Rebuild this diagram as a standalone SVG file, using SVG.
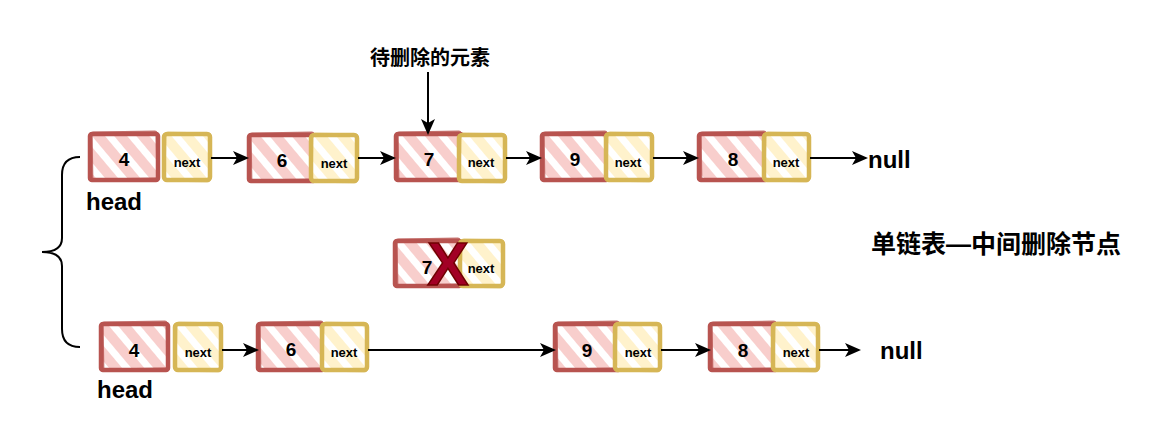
<svg xmlns="http://www.w3.org/2000/svg" width="1168" height="447" viewBox="0 0 1168 447">
<defs>
<pattern id="hr" width="17" height="17" patternUnits="userSpaceOnUse" patternTransform="rotate(-40)">
<rect width="17" height="17" fill="#ffffff"/>
<rect width="10" height="17" fill="#f8cecc"/>
</pattern>
<pattern id="hy" width="17" height="17" patternUnits="userSpaceOnUse" patternTransform="rotate(-40)">
<rect width="17" height="17" fill="#ffffff"/>
<rect width="10" height="17" fill="#fff2cc"/>
</pattern>
<marker id="ar" markerWidth="16" markerHeight="14" refX="14" refY="7" orient="auto" markerUnits="userSpaceOnUse">
<path d="M0,0 L16,7 L0,14 L4,7 Z" fill="#000"/>
</marker>
<style>
.r{fill:url(#hr);stroke:#b85450;stroke-width:4.5;stroke-linejoin:round}
.r2{fill:none;stroke:#b85450;stroke-width:2;opacity:.8}
.y{fill:url(#hy);stroke:#d6b656;stroke-width:4.5;stroke-linejoin:round}
.y2{fill:none;stroke:#d6b656;stroke-width:2;opacity:.8}
.v{font-family:"Liberation Sans",Arial,sans-serif;font-weight:bold;font-size:19px;text-anchor:middle;fill:#000}
.n{font-family:"Liberation Sans",Arial,sans-serif;font-weight:bold;font-size:13px;text-anchor:middle;fill:#000}
.lb{font-family:"Liberation Sans",Arial,sans-serif;font-weight:bold;font-size:24px;fill:#000}
.cj{font-family:"Liberation Sans","Noto Sans CJK SC",sans-serif;font-weight:bold;fill:#000}
.c{fill:none;stroke:#000;stroke-width:2}
</style>
</defs>
<rect width="1168" height="447" fill="#fff"/>

<g id="n1">
<rect class="r" x="90" y="134" width="68" height="46" rx="2"/>
<rect class="r2" x="92" y="132" width="65" height="47" rx="2" transform="rotate(-1 124 157)"/>
<rect class="y" x="164" y="134" width="46" height="46" rx="3"/>
<rect class="y2" x="165" y="133" width="45" height="48" rx="3" transform="rotate(1 187 157)"/>
<text class="v" x="124" y="166">4</text>
<text class="n" x="187" y="167">next</text>
</g>
<g id="n2">
<rect class="r" x="249" y="135" width="66" height="46" rx="2"/>
<rect class="r2" x="251" y="133" width="63" height="47" rx="2" transform="rotate(-1 282 158)"/>
<rect class="y" x="311" y="135" width="46" height="46" rx="3"/>
<rect class="y2" x="312" y="134" width="45" height="48" rx="3" transform="rotate(1 334 158)"/>
<text class="v" x="282" y="167">6</text>
<text class="n" x="334" y="168">next</text>
</g>
<g id="n3">
<rect class="r" x="396" y="134" width="66" height="46" rx="2"/>
<rect class="r2" x="398" y="132" width="63" height="47" rx="2" transform="rotate(-1 429 157)"/>
<rect class="y" x="459" y="135" width="46" height="46" rx="3"/>
<rect class="y2" x="460" y="134" width="45" height="48" rx="3" transform="rotate(1 482 158)"/>
<text class="v" x="429" y="166">7</text>
<text class="n" x="481" y="167">next</text>
</g>
<g id="n4">
<rect class="r" x="542" y="134" width="66" height="46" rx="2"/>
<rect class="r2" x="544" y="132" width="63" height="47" rx="2" transform="rotate(-1 575 157)"/>
<rect class="y" x="606" y="134" width="46" height="46" rx="3"/>
<rect class="y2" x="607" y="133" width="45" height="48" rx="3" transform="rotate(1 629 157)"/>
<text class="v" x="575" y="166">9</text>
<text class="n" x="628" y="167">next</text>
</g>
<g id="n5">
<rect class="r" x="699" y="134" width="68" height="46" rx="2"/>
<rect class="r2" x="701" y="132" width="65" height="47" rx="2" transform="rotate(-1 733 157)"/>
<rect class="y" x="764" y="134" width="45" height="46" rx="3"/>
<rect class="y2" x="765" y="133" width="44" height="48" rx="3" transform="rotate(1 786 157)"/>
<text class="v" x="733" y="166">8</text>
<text class="n" x="786" y="167">next</text>
</g>

<g id="del">
<rect class="r" x="395" y="241" width="66" height="45" rx="2"/>
<rect class="r2" x="397" y="239" width="63" height="46" rx="2" transform="rotate(-1 428 263)"/>
<rect class="y" x="460" y="241" width="43" height="45" rx="3"/>
<rect class="y2" x="461" y="240" width="42" height="47" rx="3" transform="rotate(1 481 263)"/>
<text class="v" x="427" y="274">7</text>
<text class="n" x="481" y="273">next</text>
<text x="448" y="285" font-family="Liberation Sans,Arial,sans-serif" font-weight="bold" font-size="62" text-anchor="middle" fill="#a20025" stroke="#6f0000" stroke-width="1.5">X</text>
</g>

<g id="m1">
<rect class="r" x="101" y="324" width="67" height="46" rx="2"/>
<rect class="r2" x="103" y="322" width="64" height="47" rx="2" transform="rotate(-1 134 347)"/>
<rect class="y" x="175" y="324" width="46" height="46" rx="3"/>
<rect class="y2" x="176" y="323" width="45" height="48" rx="3" transform="rotate(1 198 347)"/>
<text class="v" x="134" y="357">4</text>
<text class="n" x="198" y="357">next</text>
</g>
<g id="m2">
<rect class="r" x="258" y="324" width="66" height="46" rx="2"/>
<rect class="r2" x="260" y="322" width="63" height="47" rx="2" transform="rotate(-1 291 347)"/>
<rect class="y" x="322" y="324" width="45" height="46" rx="3"/>
<rect class="y2" x="323" y="323" width="44" height="48" rx="3" transform="rotate(1 344 347)"/>
<text class="v" x="291" y="356">6</text>
<text class="n" x="344" y="357">next</text>
</g>
<g id="m3">
<rect class="r" x="555" y="324" width="65" height="46" rx="2"/>
<rect class="r2" x="557" y="322" width="62" height="47" rx="2" transform="rotate(-1 587 347)"/>
<rect class="y" x="615" y="324" width="45" height="46" rx="3"/>
<rect class="y2" x="616" y="323" width="44" height="48" rx="3" transform="rotate(1 637 347)"/>
<text class="v" x="587" y="357">9</text>
<text class="n" x="638" y="357">next</text>
</g>
<g id="m4">
<rect class="r" x="710" y="324" width="67" height="46" rx="2"/>
<rect class="r2" x="712" y="322" width="64" height="47" rx="2" transform="rotate(-1 743 347)"/>
<rect class="y" x="773" y="324" width="45" height="46" rx="3"/>
<rect class="y2" x="774" y="323" width="44" height="48" rx="3" transform="rotate(1 795 347)"/>
<text class="v" x="743" y="357">8</text>
<text class="n" x="796" y="357">next</text>
</g>

<g id="connectors">
<line class="c" x1="211" y1="158" x2="247" y2="158" marker-end="url(#ar)"/>
<line class="c" x1="358" y1="158" x2="394" y2="158" marker-end="url(#ar)"/>
<line class="c" x1="506" y1="158" x2="540" y2="158" marker-end="url(#ar)"/>
<line class="c" x1="653" y1="158" x2="697" y2="158" marker-end="url(#ar)"/>
<line class="c" x1="810" y1="158" x2="866" y2="158" marker-end="url(#ar)"/>
<line class="c" x1="428" y1="72" x2="428" y2="133" marker-end="url(#ar)"/>
<line class="c" x1="222" y1="350" x2="257" y2="350" marker-end="url(#ar)"/>
<line class="c" x1="368" y1="350" x2="554" y2="350" marker-end="url(#ar)"/>
<line class="c" x1="661" y1="350" x2="709" y2="350" marker-end="url(#ar)"/>
<line class="c" x1="819" y1="350" x2="859" y2="350" marker-end="url(#ar)"/>
<path class="c" d="M80,157 Q62,157 62,175 L62,238 Q62,252 42,252 Q62,252 62,266 L62,329 Q62,347 80,347"/>
</g>

<g id="labels">
<text class="lb" x="868" y="168">null</text>
<text class="lb" x="880" y="359">null</text>
<text class="lb" x="86" y="210">head</text>
<text class="lb" x="97" y="398">head</text>
<text class="cj" x="430" y="65" font-size="20" text-anchor="middle">待删除的元素</text>
<text class="cj" x="996" y="253" font-size="25" text-anchor="middle">单链表—中间删除节点</text>
</g>
</svg>
